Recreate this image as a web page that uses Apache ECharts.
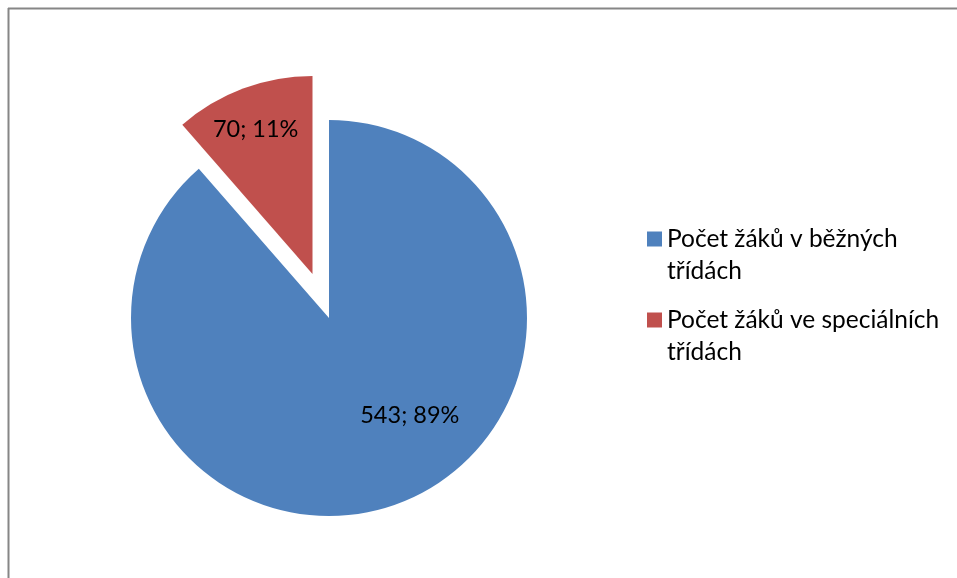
<!DOCTYPE html>
<html>
<head>
<meta charset="utf-8">
<script src="https://cdn.jsdelivr.net/npm/echarts@6/dist/echarts.min.js"></script>
<style>html,body{margin:0;padding:0;background:#fff}#c{width:957px;height:578px}</style>
</head>
<body>
<div id="c"></div>
<script>
const categories = ['Počet žáků v běžných třídách', 'Počet žáků ve speciálních třídách'];
const legendLabels = ['Počet žáků v běžných\ntřídách', 'Počet žáků ve speciálních\ntřídách'];
const values = [543, 70];
const percents = [89, 11];
const colors = ['#4F81BD', '#C0504D'];

const FONT = 'Lato';
const chart = echarts.init(document.getElementById('c'));
const labelShift = [[45, 2], [-21, -49]];
chart.setOption({
  animation: false,
  backgroundColor: '#fff',
  color: colors,
  graphic: [
    { type: 'line', shape: { x1: 8, y1: 8.5, x2: 957, y2: 8.5 }, style: { stroke: '#868686', lineWidth: 2 } },
    { type: 'line', shape: { x1: 8.5, y1: 8, x2: 8.5, y2: 578 }, style: { stroke: '#868686', lineWidth: 2 } }
  ],
  legend: {
    orient: 'vertical',
    left: 647,
    top: 191,
    padding: 0,
    itemWidth: 15,
    itemHeight: 15,
    itemGap: -15,
    icon: 'rect',
    selectedMode: false,
    formatter: function (name) { return ' \n' + legendLabels[categories.indexOf(name)]; },
    textStyle: { fontFamily: FONT, fontSize: 24.5, color: '#000', lineHeight: 32 },
    data: categories
  },
  series: [{
    type: 'pie',
    center: [329, 318],
    radius: 198,
    startAngle: 90,
    clockwise: true,
    selectedMode: 'single',
    selectedOffset: 47,
    emphasis: { disabled: true },
    label: {
      show: true,
      position: 'inside',
      fontFamily: FONT,
      fontSize: 23.5,
      color: '#000',
      formatter: function (p) { return values[p.dataIndex] + '; ' + percents[p.dataIndex] + '%'; }
    },
    labelLayout: function (p) { return { dx: labelShift[p.dataIndex][0], dy: labelShift[p.dataIndex][1] }; },
    labelLine: { show: false },
    data: categories.map((n, i) => ({ name: n, value: values[i], selected: i === 1 }))
  }]
});
</script>
</body>
</html>
